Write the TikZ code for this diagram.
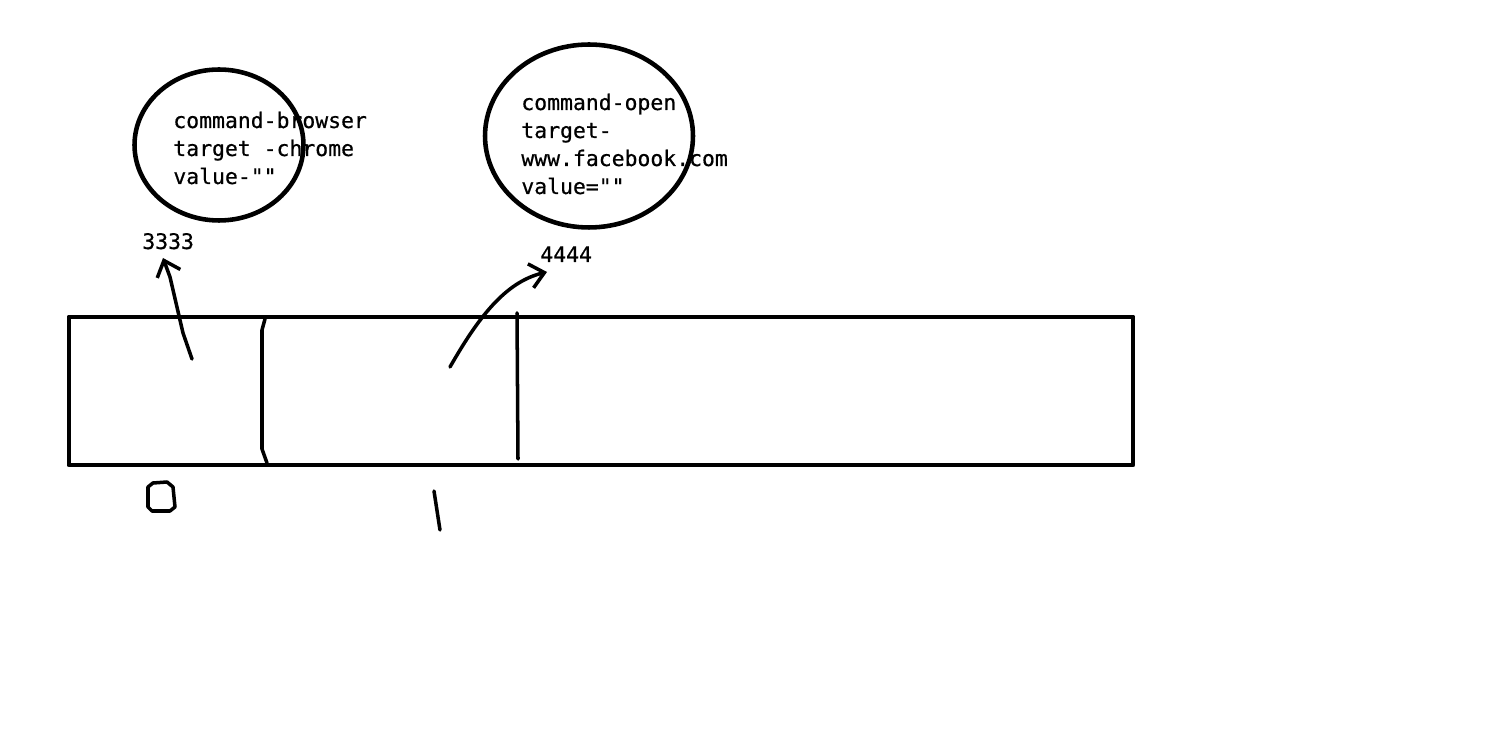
\documentclass[tikz,border=0pt]{standalone}
\usepackage{fontspec}
\usepackage{tikz}
\usetikzlibrary{arrows.meta,shapes.geometric}
\newfontfamily\sketchfont[FakeBold=0.6]{DejaVu Sans Mono}

\begin{document}
\begin{tikzpicture}[
        x=0.02cm, y=-0.02cm,
        pen/.style={line width=2.8pt, line cap=round, line join=round},
        thinpen/.style={line width=2pt, line cap=round, line join=round},
        bubble/.style={draw, ellipse, line width=2.6pt, inner sep=0pt},
        txt/.style={anchor=base west, inner sep=0pt, font=\sketchfont\fontsize{12.2}{14}\selectfont},
        barb/.style={-{Straight Barb[length=8pt,width=14pt]}}
    ]
        \useasboundingbox (0,0) rectangle (1508,742);

        \node[bubble, minimum width=3.38cm, minimum height=3.02cm] (bubA) at (219,145) {};
        \node[bubble, minimum width=4.16cm, minimum height=3.66cm] (bubB) at (589,136) {};

        \foreach \t [count=\i from 0] in {command-browser, target -chrome, value-""} {
            \node[txt] (cmdA\i) at (173,128+28*\i) {\t};
        }
        \foreach \t [count=\i from 0] in {command-open, target-, www.facebook.com, value=""} {
            \node[txt] (cmdB\i) at (521,110+28*\i) {\t};
        }

        \node[txt] (idA) at (142,249) {3333};
        \node[txt] (idB) at (540,262) {4444};

        \draw[pen] (69,317) rectangle (1133,465);
        \draw[thinpen] (265,319) -- (262,330) -- (262,449) -- (267,463);
        \draw[thinpen] (517,313) -- (518,459);

        \coordinate (fromA) at (192,359);
        \coordinate (tipA) at (163,258);
        \coordinate (fromB) at (450,367);
        \coordinate (tipB) at (547,272);
        \draw[thinpen, barb] (fromA) -- (183,333) -- (170,277) -- (tipA);
        \draw[thinpen, barb] (fromB) .. controls (478,318) and (505,282) .. (tipB);

        \draw[thinpen] (148,487) -- (153,483) -- (167,482) -- (173,487) -- (175,507) -- (170,511) -- (152,511) -- (148,507) -- cycle;
        \draw[thinpen] (434,491) -- (440,530);
    \end{tikzpicture}
\end{document}
